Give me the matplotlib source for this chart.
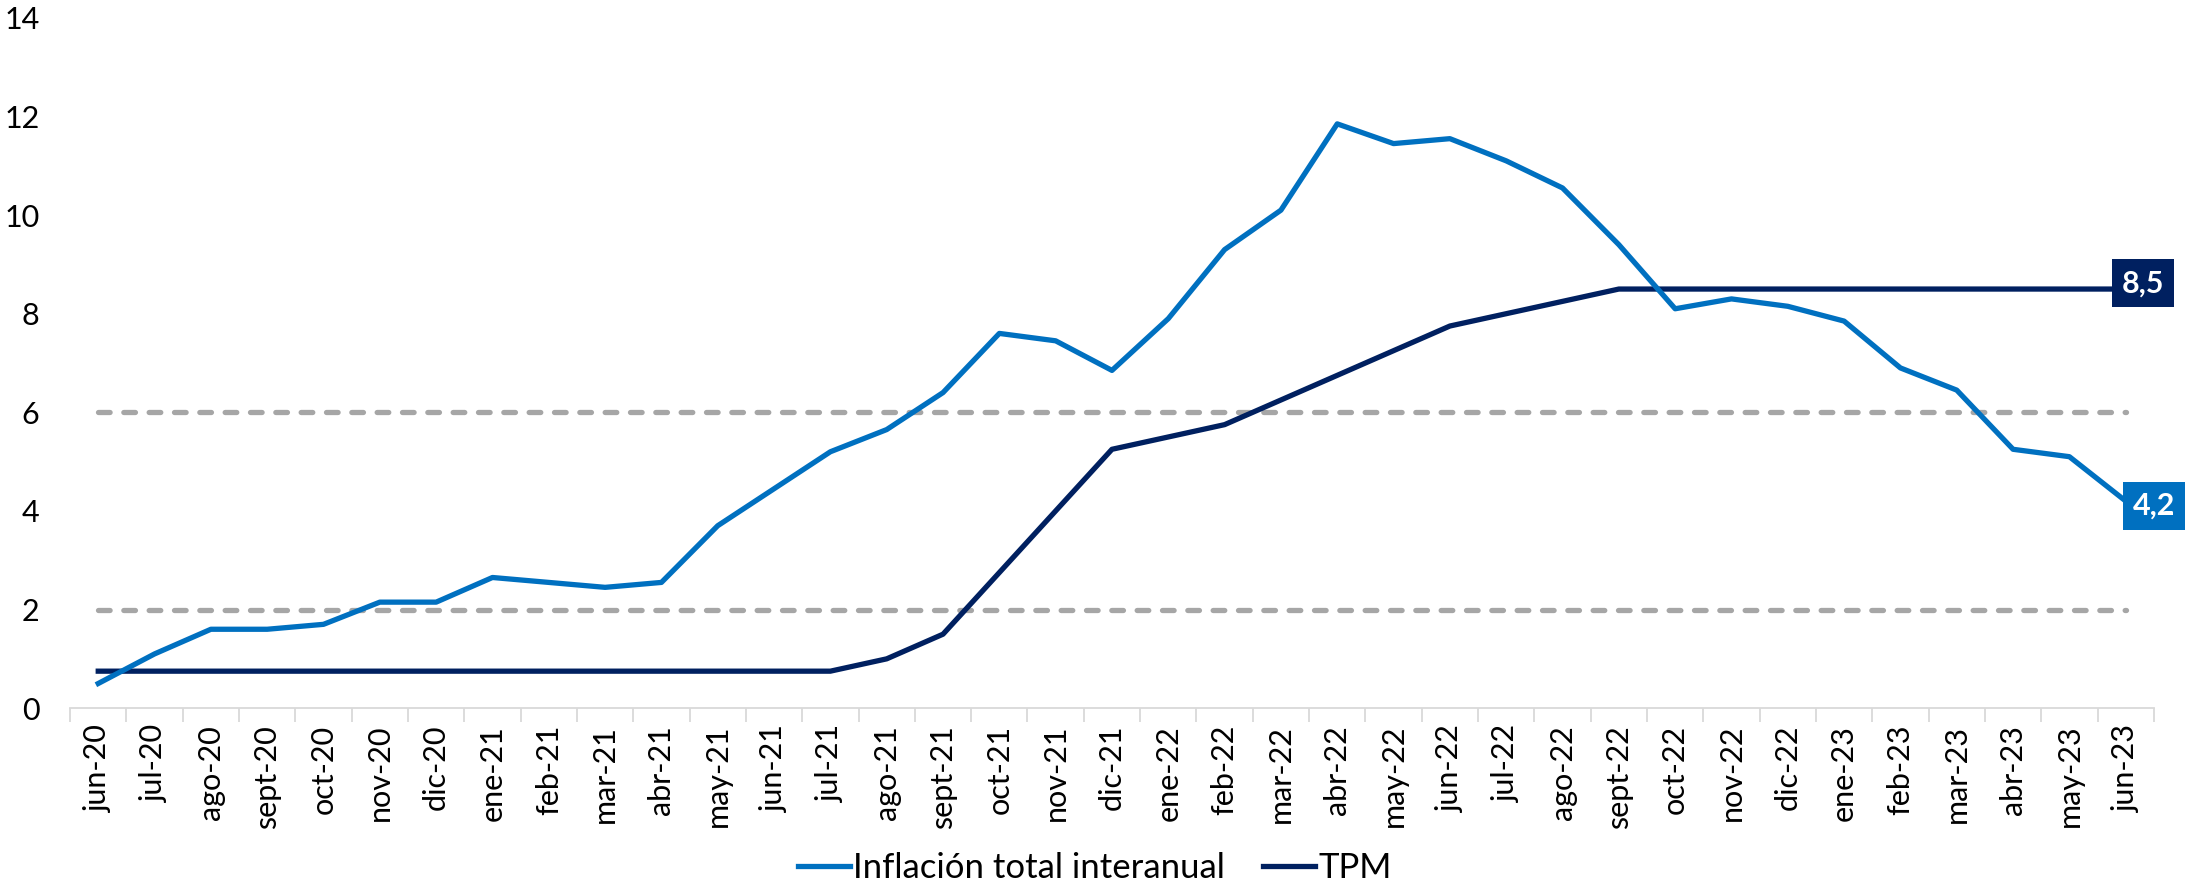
import matplotlib
matplotlib.use("Agg")
import matplotlib.pyplot as plt
import numpy as np

plt.rcParams['font.family'] = ['Lato', 'DejaVu Sans']

meses = ['jun-20', 'jul-20', 'ago-20', 'sept-20', 'oct-20', 'nov-20', 'dic-20',
         'ene-21', 'feb-21', 'mar-21', 'abr-21', 'may-21', 'jun-21', 'jul-21',
         'ago-21', 'sept-21', 'oct-21', 'nov-21', 'dic-21', 'ene-22', 'feb-22',
         'mar-22', 'abr-22', 'may-22', 'jun-22', 'jul-22', 'ago-22', 'sept-22',
         'oct-22', 'nov-22', 'dic-22', 'ene-23', 'feb-23', 'mar-23', 'abr-23',
         'may-23', 'jun-23']

inflacion = [0.5, 1.1, 1.6, 1.6, 1.7, 2.15, 2.15, 2.65, 2.55, 2.45, 2.55, 3.7,
             4.45, 5.2, 5.65, 6.4, 7.6, 7.45, 6.85, 7.9, 9.3, 10.1, 11.85, 11.45,
             11.55, 11.1, 10.55, 9.4, 8.1, 8.3, 8.15, 7.85, 6.9, 6.45, 5.25, 5.1,
             4.2]

tpm = [0.75] * 14 + [1.0, 1.5, 2.75, 4.0, 5.25, 5.5, 5.75, 6.25, 6.75, 7.25,
                     7.75, 8.0, 8.25] + [8.5] * 10

rango_meta = [2, 6]

azul = '#0070C0'
marino = '#002060'
gris = '#A6A6A6'

fig = plt.figure(figsize=(21.9, 8.93), dpi=100)
ax = fig.add_axes([0.032, 0.207, 0.9515, 0.773])

x = np.arange(len(meses))

# bandas de la meta
for nivel in rango_meta:
    ax.plot([x[0], x[-1]], [nivel, nivel], color=gris, lw=3.8,
            dashes=(2.2, 2.6), dash_capstyle='round', zorder=1)

ax.plot(x, inflacion, color=azul, lw=3.8, label='Inflación total interanual',
        zorder=3)
ax.plot(x, tpm, color=marino, lw=3.8, label='TPM', zorder=2)

# etiquetas del último dato
ax.text(x[-1] + 0.3, tpm[-1] + 0.12, f'{tpm[-1]:.1f}'.replace('.', ','),
        ha='center', va='center', color='white', fontsize=22, fontweight='bold',
        bbox=dict(boxstyle='square,pad=0.32', fc=marino, ec='none'), zorder=5)
ax.text(x[-1] + 0.5, inflacion[-1] - 0.1, f'{inflacion[-1]:.1f}'.replace('.', ','),
        ha='center', va='center', color='white', fontsize=22, fontweight='bold',
        bbox=dict(boxstyle='square,pad=0.32', fc=azul, ec='none'), zorder=5)

ax.set_xlim(-0.5, len(meses) - 0.5)
ax.set_ylim(0, 14)
ax.set_yticks(range(0, 15, 2))

ax.set_xticks(x)
ax.set_xticklabels(meses, rotation=90, fontsize=22)
ax.set_xticks(np.arange(-0.5, len(meses), 1), minor=True)
ax.tick_params(axis='x', which='major', length=0, pad=12)
ax.tick_params(axis='x', which='minor', length=10, width=1.3, color='#D9D9D9')
ax.tick_params(axis='y', length=0, labelsize=22, pad=22)

for lado in ['top', 'right', 'left']:
    ax.spines[lado].set_visible(False)
ax.spines['bottom'].set_color('#D9D9D9')
ax.spines['bottom'].set_linewidth(1.3)

fig.legend(loc='lower center', bbox_to_anchor=(0.5, -0.025), ncol=2, frameon=False,
           fontsize=25, handlelength=1.5, handletextpad=0.1, columnspacing=1.1)

fig.savefig('out.png', dpi=100)
